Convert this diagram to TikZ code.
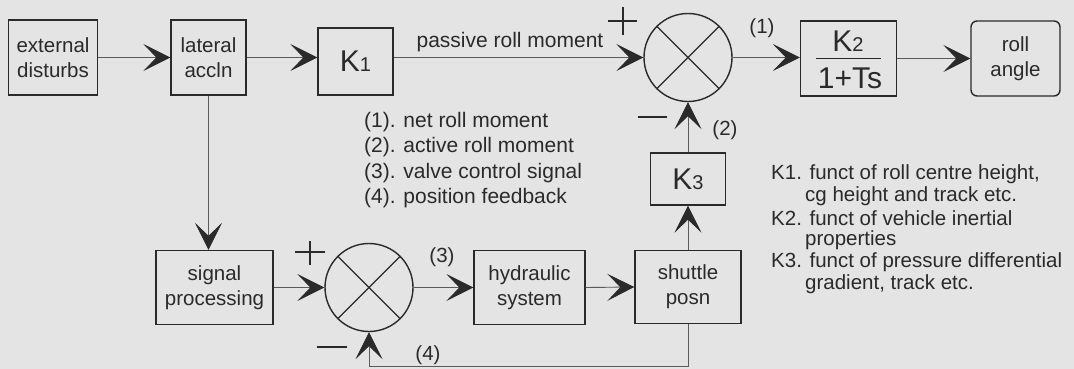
\documentclass[tikz,border=0pt]{standalone}
\usepackage{fontspec}
\setmainfont{Liberation Sans}
\usetikzlibrary{arrows.meta}
\definecolor{bgc}{HTML}{E4E4E4}
\definecolor{inkc}{HTML}{2A2A2A}
\definecolor{linec}{HTML}{5A5A5A}
\newcommand{\bigK}[1]{{\fontsize{30}{36}\selectfont K{\fontsize{20}{20}\selectfont #1}}}
\begin{document}
\begin{tikzpicture}[x=1pt,y=-1pt,
  every node/.style={text=inkc, font=\fontsize{20.5}{25}\selectfont, inner sep=0pt},
  blk/.style={draw=inkc, line width=1.4pt, align=center},
  sumj/.style={draw=inkc, line width=1.4pt, circle, minimum size=88pt},
  conn/.style={draw=linec, line width=0.9pt, -{Stealth[length=27pt,width=27pt,inset=13pt,color=inkc]}},
  sgn/.style={draw=inkc, line width=1.1pt},
  lbl/.style={anchor=west, align=left, font=\fontsize{21}{25}\selectfont},
  note/.style={anchor=west, align=left, font=\fontsize{20.5}{21}\selectfont},
]
\fill[bgc] (0,0) rectangle (1074,369);
\useasboundingbox (0,0) rectangle (1074,369);

% top row
\node[blk, minimum width=89pt, minimum height=75pt] (ext) at (53,57.5) {external\\disturbs};
\node[blk, minimum width=75pt, minimum height=75pt] (lat) at (208.5,57.5) {lateral\\accln};
\node[blk, minimum width=75pt, minimum height=67pt] (k1) at (355.5,61.5) {\bigK{1}};
\node[sumj] (sa) at (688,57.5) {};
\node[blk, minimum width=96pt, minimum height=75pt] (k2) at (848.5,58.5) {};
\node (k2num) at (848,41) {\bigK{2}};
\node (k2den) at (850,78) {\fontsize{30}{36}\selectfont 1+Ts};
\draw[inkc, line width=1.1pt] (k2.center) ++(-32.5,0) -- ++(65,0);
\node[blk, rounded corners=6pt, minimum width=89pt, minimum height=75pt] (roll) at (1015.5,58.5) {roll\\angle};

% K3
\node[blk, minimum width=75pt, minimum height=52pt] (k3) at (688,179) {\bigK{3}};

% bottom row
\node[blk, minimum width=117pt, minimum height=74pt] (sig) at (214.5,287.5) {signal\\processing};
\node[sumj] (sb) at (369,287.5) {};
\node[blk, minimum width=111pt, minimum height=74pt] (hyd) at (529.5,287.5) {hydraulic\\system};
\node[blk, minimum width=106pt, minimum height=73pt] (shu) at (688,287) {shuttle\\posn};
\coordinate (fb) at (0,366);

% crosses in summing junctions
\draw[sgn] (sa.north west) -- (sa.south east) (sa.north east) -- (sa.south west);
\draw[sgn] (sb.north west) -- (sb.south east) (sb.north east) -- (sb.south west);

% connectors
\draw[conn] (ext.east) -- (lat.west);
\draw[conn] (lat.east) -- (lat.east -| k1.west);
\draw[conn] (k1.east |- sa) -- (sa.west);
\draw[conn] (sa.east) -- (sa.east -| k2.west);
\draw[conn] (k2.east |- roll) -- (roll.west);
\draw[conn] (k3.north) -- (sa.south);
\draw[conn] (shu.north) -- (k3.south);
\draw[conn] (lat.south) -- (lat.south |- sig.north);
\draw[conn] (sig.east) -- (sb.west);
\draw[conn] (sb.east) -- (hyd.west);
\draw[conn] (hyd.east) -- (shu.west);
\draw[conn] (shu.south) |- (fb -| sb) -- (sb.south);

% signs
\draw[sgn] (608,21) -- (637,21) (623,7) -- (623,35);
\draw[sgn] (638,117) -- (667,117);
\draw[sgn] (295,252) -- (325,252) (310,241) -- (310,265);
\draw[sgn] (317,347) -- (347,347);

% labels
\node[font=\fontsize{21}{25}\selectfont] (lpass) at (510,42) {passive roll moment};
\node (l1) at (762,28) {(1)};
\node (l2) at (725,130) {(2)};
\node (l3) at (442,257) {(3)};
\node (l4) at (428,355) {(4)};

% legend
\node[lbl] (g1) at (364,122) {(1). net roll moment};
\node[lbl] (g2) at (364,147.5) {(2). active roll moment};
\node[lbl] (g3) at (364,173) {(3). valve control signal};
\node[lbl] (g4) at (364,198.5) {(4). position feedback};

% notes
\node[note] (n1) at (771,174) {K1. funct of roll centre height,};
\node[note] (n2) at (805,196) {cg height and track etc.};
\node[note] (n3) at (771,218) {K2. funct of vehicle inertial};
\node[note] (n4) at (805,240) {properties};
\node[note] (n5) at (771,262) {K3. funct of pressure differential};
\node[note] (n6) at (805,284) {gradient, track etc.};
\end{tikzpicture}
\end{document}
